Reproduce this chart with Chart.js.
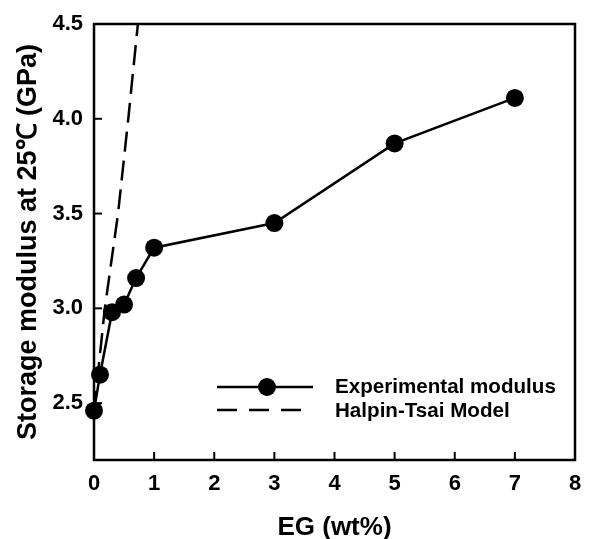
<!DOCTYPE html>
<html>
<head>
<meta charset="utf-8">
<script src="https://cdn.jsdelivr.net/npm/chart.js@4/dist/chart.umd.min.js"></script>
<style>
  html, body { margin: 0; padding: 0; background: #fff; }
  #wrap { width: 589px; height: 539px; }
</style>
</head>
<body>
<div id="wrap"><canvas id="c" width="589" height="539"></canvas></div>
<script>
// ---- data ----
const egContent   = [0, 0.1, 0.3, 0.5, 0.7, 1, 3, 5, 7];
const expModulus  = [2.46, 2.65, 2.98, 3.02, 3.16, 3.32, 3.45, 3.87, 4.11];
const htContent   = [0, 0.18, 0.4, 0.57, 0.73];
const htModulus   = [2.46, 3.0, 3.5, 4.0, 4.5];
const xTickValues = [0, 1, 2, 3, 4, 5, 6, 7, 8];
const yTickValues = [2.5, 3.0, 3.5, 4.0, 4.5];
const seriesLabels = ['Experimental modulus', 'Halpin-Tsai Model'];
const xTitle = 'EG (wt%)';
const yTitle = 'Storage modulus at 25\u2103 (GPa)';

const FONT = '"Liberation Sans", Arial, Helvetica, sans-serif';

const expPoints = egContent.map((x, i) => ({ x: x, y: expModulus[i] }));
const htPoints  = htContent.map((x, i) => ({ x: x, y: htModulus[i] }));

// frame, inward ticks and legend
const framePlugin = {
  id: 'frame',
  beforeDatasetsDraw(chart) {
    const ctx = chart.ctx;
    const a = chart.chartArea;
    const xs = chart.scales.x, ys = chart.scales.y;
    ctx.save();
    ctx.strokeStyle = '#000';
    ctx.lineWidth = 2.5;
    ctx.setLineDash([]);
    ctx.strokeRect(a.left, a.top, a.right - a.left, a.bottom - a.top);
    ctx.lineWidth = 2;
    const tl = 8;
    xs.ticks.forEach(t => {
      const px = xs.getPixelForValue(t.value);
      ctx.beginPath(); ctx.moveTo(px, a.bottom); ctx.lineTo(px, a.bottom - tl); ctx.stroke();
    });
    ys.ticks.forEach(t => {
      const py = ys.getPixelForValue(t.value);
      ctx.beginPath(); ctx.moveTo(a.left, py); ctx.lineTo(a.left + tl, py); ctx.stroke();
    });
    ctx.restore();
  },
  afterDraw(chart) {
    const ctx = chart.ctx;
    ctx.save();
    ctx.strokeStyle = '#000';
    const lx0 = 217, lx1 = 313, tx = 335;
    const rows = [387, 410];
    ctx.lineWidth = 2.5;
    ctx.beginPath(); ctx.moveTo(lx0, rows[0]); ctx.lineTo(lx1, rows[0]); ctx.stroke();
    ctx.fillStyle = '#000';
    ctx.beginPath(); ctx.arc((lx0 + lx1) / 2 + 2, rows[0], 9, 0, Math.PI * 2); ctx.fill();
    ctx.setLineDash([20, 12]);
    ctx.beginPath(); ctx.moveTo(lx0, rows[1]); ctx.lineTo(lx1 - 12, rows[1]); ctx.stroke();
    ctx.setLineDash([]);
    ctx.font = 'bold 20.6px ' + FONT;
    ctx.textBaseline = 'middle';
    ctx.textAlign = 'left';
    ctx.fillText(seriesLabels[0], tx, rows[0]);
    ctx.fillText(seriesLabels[1], tx, rows[1] + 1);
    ctx.restore();
  }
};

new Chart(document.getElementById('c'), {
  type: 'scatter',
  data: {
    datasets: [
      {
        label: seriesLabels[1],
        data: htPoints,
        showLine: true,
        borderColor: '#000',
        borderWidth: 2.5,
        borderDash: [20, 9],
        pointRadius: 0,
        tension: 0
      },
      {
        label: seriesLabels[0],
        data: expPoints,
        showLine: true,
        clip: false,
        borderColor: '#000',
        backgroundColor: '#000',
        borderWidth: 2.5,
        pointRadius: 9,
        pointBackgroundColor: '#000',
        pointBorderColor: '#000',
        pointBorderWidth: 0,
        tension: 0
      }
    ]
  },
  options: {
    responsive: false,
    animation: false,
    devicePixelRatio: 1,
    layout: { padding: { left: 0, right: 14, top: 24, bottom: 0 } },
    plugins: {
      legend: { display: false },
      tooltip: { enabled: false }
    },
    scales: {
      x: {
        type: 'linear',
        min: 0, max: 8,
        afterBuildTicks(scale) { scale.ticks = xTickValues.map(v => ({ value: v })); },
        afterFit(scale) { scale.height = 79; scale.paddingLeft = 0; scale.paddingRight = 0; },
        grid: { display: false, drawTicks: false },
        border: { display: false },
        ticks: {
          color: '#000',
          padding: 11,
          font: { family: FONT, size: 22, weight: 'bold' },
          callback: v => String(v)
        },
        title: {
          display: true,
          text: xTitle,
          color: '#000',
          font: { family: FONT, size: 26, weight: 'bold' },
          padding: { top: 0, bottom: -4 }
        }
      },
      y: {
        type: 'linear',
        min: 2.2, max: 4.5,
        afterBuildTicks(scale) { scale.ticks = yTickValues.map(v => ({ value: v })); },
        afterFit(scale) { scale.width = 94; scale.paddingTop = 0; scale.paddingBottom = 0; },
        grid: { display: false, drawTicks: false },
        border: { display: false },
        ticks: {
          color: '#000',
          padding: 11,
          font: { family: FONT, size: 22, weight: 'bold' },
          callback: v => Number(v).toFixed(1)
        },
        title: {
          display: true,
          text: yTitle,
          color: '#000',
          font: { family: FONT, size: 27, weight: 'bold' },
          padding: { top: 12, bottom: 0 }
        }
      }
    }
  },
  plugins: [framePlugin]
});
</script>
</body>
</html>
